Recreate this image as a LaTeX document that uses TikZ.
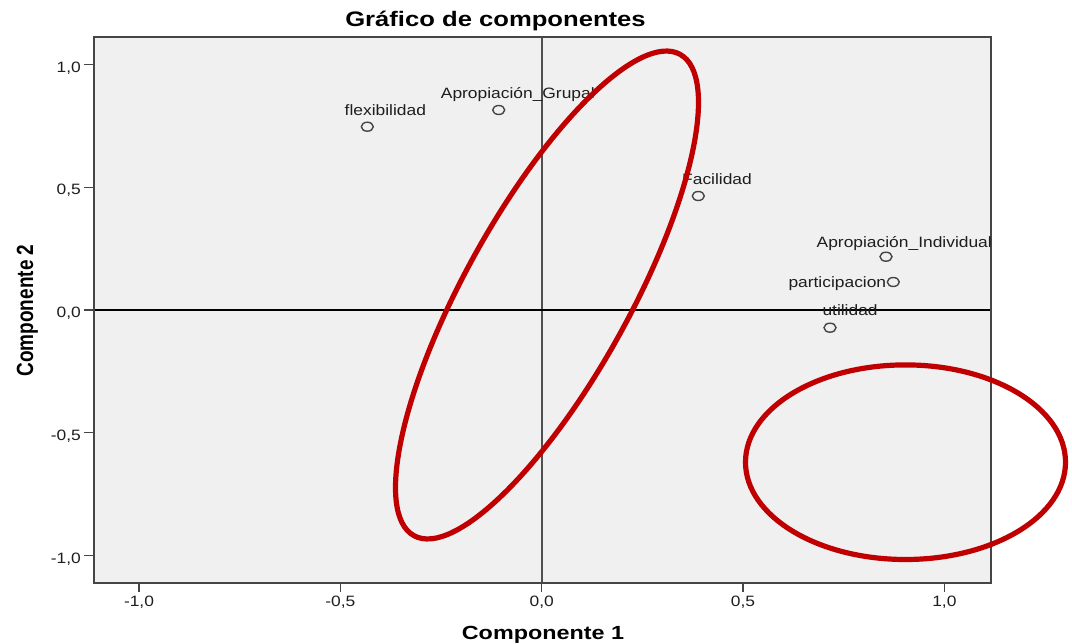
\documentclass[tikz,border=0pt]{standalone}
\usepackage{fontspec}
\setmainfont{Liberation Sans}
\usepackage{graphicx}
\usetikzlibrary{shapes.geometric}
\definecolor{plotbg}{HTML}{F0F0F0}
\definecolor{framec}{HTML}{454545}
\definecolor{zeroc}{HTML}{505050}
\definecolor{ringc}{HTML}{C00000}
\definecolor{txtc}{HTML}{1E1E1E}
\newcommand{\hlbl}[1]{\scalebox{1.16}[1]{#1}}
\newcommand{\httl}[1]{\scalebox{1.22}[1]{#1}}
\begin{document}
\begin{tikzpicture}[x=1pt,y=-1pt,
  lab/.style={inner sep=0pt, text=txtc, font=\fontsize{15}{18}\selectfont},
  ticklab/.style={inner sep=0pt, text=txtc, font=\fontsize{15}{18}\selectfont},
  axtitle/.style={inner sep=0pt, text=black, font=\fontsize{19}{22}\selectfont\bfseries},
  marker/.style={ellipse, draw=framec, line width=1.4pt, minimum width=12pt, minimum height=9pt, inner sep=0pt},
  tickmark/.style={draw=framec, line width=1.5pt},
  redring/.style={draw=ringc, line width=5.2pt}]
\useasboundingbox[fill=white] (0,0) rectangle (1072,644);
% plot area
\fill[plotbg] (94,37.5) rectangle (991,582.5);
% zero lines
\draw[zeroc, line width=2.2pt] (541.7,37.5) -- (541.7,582.5);
\draw[black, line width=1.5pt] (94,310) -- (991,310);
% frame
\draw[framec, line width=2pt] (94,37.5) rectangle (991,582.5);
% y ticks
\foreach \py in {64.7,187.3,310,432.7,555.3} {\draw[tickmark] (83.5,\py) -- (94,\py);}
\node[ticklab, anchor=base east] (y1) at (81,72.4) {\hlbl{1,0}};
\node[ticklab, anchor=base east] (y2) at (81,195) {\hlbl{0,5}};
\node[ticklab, anchor=base east] (y3) at (81,317.7) {\hlbl{0,0}};
\node[ticklab, anchor=base east] (y4) at (81,440.4) {\hlbl{-0,5}};
\node[ticklab, anchor=base east] (y5) at (81,563) {\hlbl{-1,0}};
% x ticks
\foreach \px in {139,340.3,541.7,743,944.4} {\draw[tickmark] (\px,582.5) -- (\px,592);}
\node[ticklab, anchor=base] (x1) at (139,606.5) {\hlbl{-1,0}};
\node[ticklab, anchor=base] (x2) at (340.3,606.5) {\hlbl{-0,5}};
\node[ticklab, anchor=base] (x3) at (541.7,606.5) {\hlbl{0,0}};
\node[ticklab, anchor=base] (x4) at (743,606.5) {\hlbl{0,5}};
\node[ticklab, anchor=base] (x5) at (944.4,606.5) {\hlbl{1,0}};
% titles
\node[inner sep=0pt, anchor=base, font=\fontsize{21}{24}\selectfont\bfseries] (title) at (495.5,26.7) {\httl{Gráfico de componentes}};
\node[axtitle, anchor=base] (xt) at (543,639.3) {\scalebox{1.23}[1]{Componente 1}};
\node[axtitle, anchor=base, rotate=90] (yt) at (33,310.5) {\scalebox{1}[1.23]{Componente 2}};
% markers
\node[marker] (m1) at (367.3,126.7) {};
\node[marker] (m2) at (498.7,110) {};
\node[marker] (m3) at (698.3,196) {};
\node[marker] (m4) at (886,256.7) {};
\node[marker] (m5) at (893.3,282) {};
\node[marker] (m6) at (830,327.7) {};
% labels
\node[lab, anchor=base west] (l1) at (344.5,116) {\hlbl{flexibilidad}};
\node[lab, anchor=base west] (l2) at (440.7,98.5) {\hlbl{Apropiación\_Grupal}};
\node[lab, anchor=base west] (l3) at (682,184.5) {\hlbl{Facilidad}};
\node[lab, anchor=base west] (l4) at (816.5,247.3) {\hlbl{Apropiación\_Individual}};
\node[lab, anchor=base west] (l5) at (788.3,287.7) {\hlbl{participacion}};
\node[lab, anchor=base west] (l6) at (822.3,316) {\hlbl{utilidad}};
% red rings
\draw[redring, rotate around={61.05:(547,295)}] (547,295) ellipse [x radius=275, y radius=82.6];
\draw[redring] (905.5,462.2) ellipse [x radius=160, y radius=97.3];
\end{tikzpicture}
\end{document}
